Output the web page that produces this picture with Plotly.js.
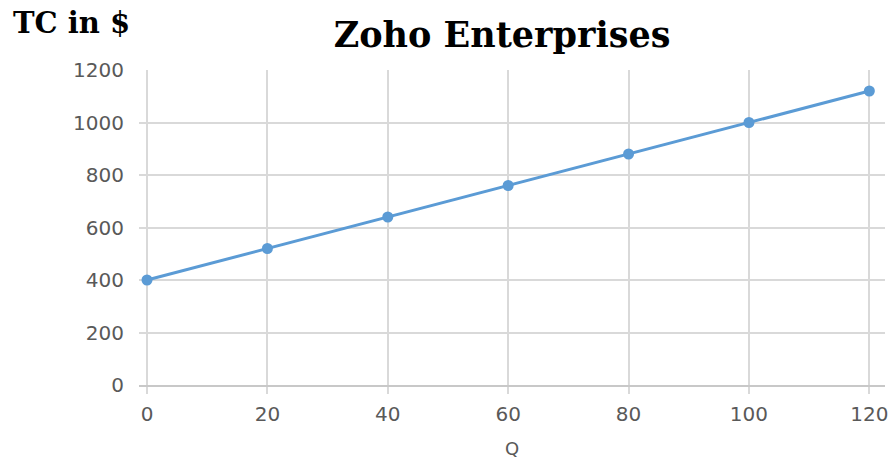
<!DOCTYPE html>
<html>
<head>
<meta charset="utf-8">
<script src="https://cdn.plot.ly/plotly-3.0.1.min.js"></script>
<style>
  html, body { margin: 0; padding: 0; background: #ffffff; }
  #chart { width: 891px; height: 459px; }
</style>
</head>
<body>
<div id="chart"></div>
<script>
// Output quantity and total cost
const quantity = [0, 20, 40, 60, 80, 100, 120];
const totalCost = [400, 520, 640, 760, 880, 1000, 1120];
const xTicks = [0, 20, 40, 60, 80, 100, 120];
const yTicks = [0, 200, 400, 600, 800, 1000, 1200];

const tickFont = { family: 'DejaVu Sans, sans-serif', size: 20, color: '#595959' };
const gridColor = '#d9d9d9';

const trace = {
  x: quantity,
  y: totalCost,
  type: 'scatter',
  mode: 'lines+markers',
  line: { color: '#5b9bd5', width: 3 },
  marker: { color: '#5b9bd5', size: 11 },
  cliponaxis: false,
  hoverinfo: 'x+y'
};

const layout = {
  width: 891,
  height: 459,
  paper_bgcolor: '#ffffff',
  plot_bgcolor: '#ffffff',
  margin: { l: 139, r: 6, t: 70, b: 74 },
  showlegend: false,
  title: {
    text: 'Zoho Enterprises',
    font: { family: 'DejaVu Serif, serif', size: 35, color: '#000000', weight: 'bold' },
    xref: 'container', yref: 'container',
    x: 0.5635, xanchor: 'center',
    y: 0.925, yanchor: 'middle'
  },
  xaxis: {
    range: [-1.33, 122.6],
    tickmode: 'array',
    tickvals: xTicks,
    ticktext: xTicks.map(String),
    showgrid: true,
    gridcolor: gridColor,
    gridwidth: 2,
    zeroline: false,
    showline: true,
    linecolor: '#c8c8c8',
    linewidth: 2,
    ticks: 'outside',
    ticklen: 7,
    tickwidth: 2,
    tickcolor: gridColor,
    tickfont: tickFont,
    ticklabelstandoff: 3,
    title: { text: 'Q', font: { family: 'DejaVu Sans, sans-serif', size: 18, color: '#595959' }, standoff: 17 },
    fixedrange: true
  },
  yaxis: {
    range: [0, 1200],
    tickmode: 'array',
    tickvals: yTicks,
    ticktext: yTicks.map(String),
    showgrid: true,
    gridcolor: gridColor,
    gridwidth: 2,
    zeroline: false,
    showline: false,
    ticks: '',
    tickfont: tickFont,
    ticklabelstandoff: 14,
    fixedrange: true
  },
  annotations: [{
    text: 'TC in $',
    xref: 'paper', yref: 'paper',
    x: -139 / 746, xanchor: 'left',
    y: 1 + 47 / 315, yanchor: 'middle',
    xshift: 11,
    showarrow: false,
    font: { family: 'DejaVu Serif, serif', size: 29, color: '#000000', weight: 'bold' }
  }]
};

Plotly.newPlot('chart', [trace], layout, { displayModeBar: false, staticPlot: true });
</script>
</body>
</html>
